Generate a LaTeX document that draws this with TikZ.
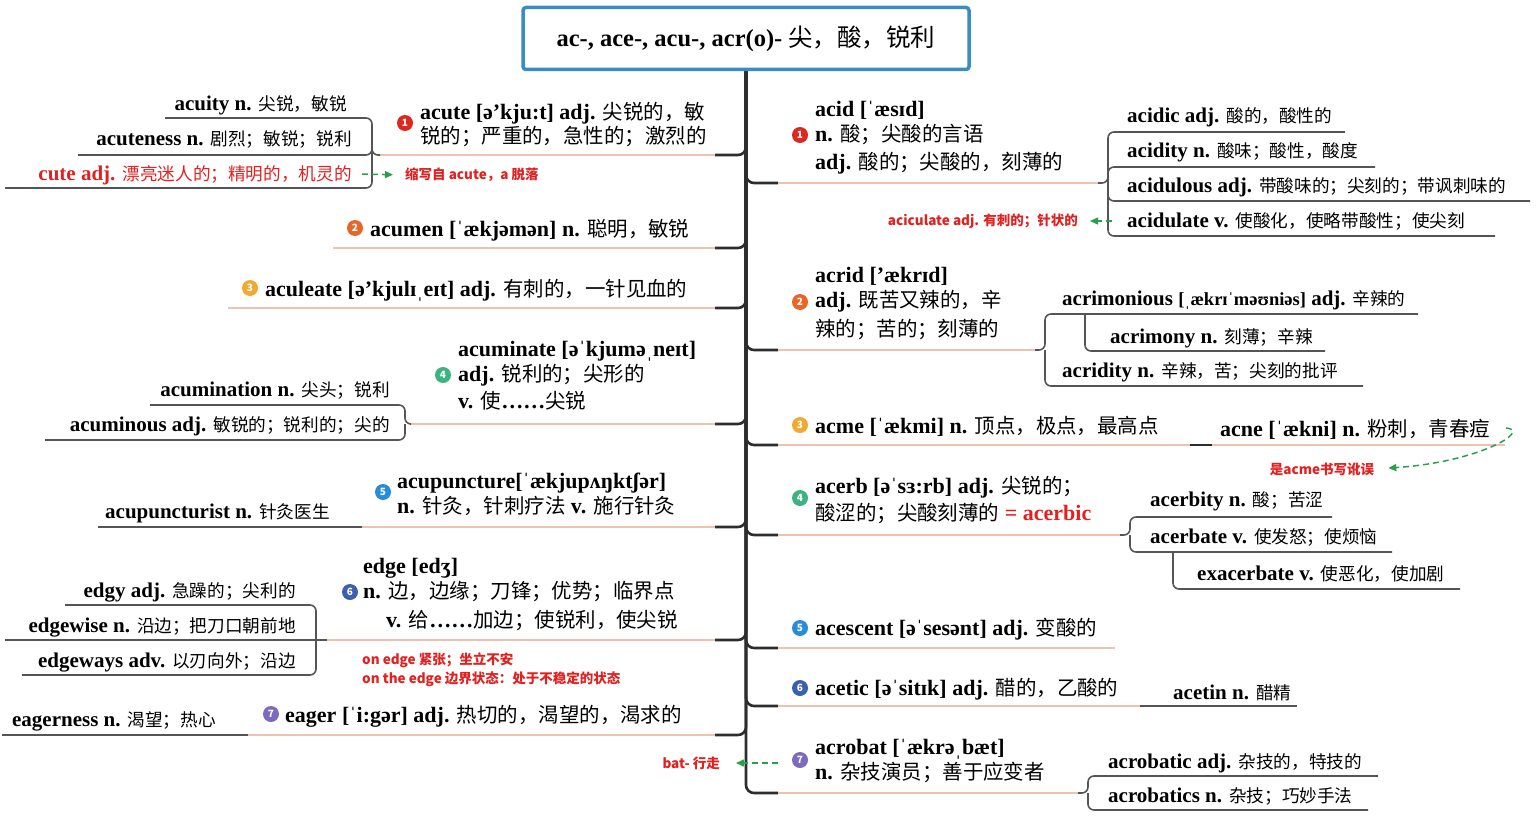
\documentclass[tikz,border=0pt]{standalone}
\usepackage{fontspec}
\usepackage{xcolor}
\usepackage{tikz}
\usetikzlibrary{positioning,backgrounds,arrows.meta}
\setmainfont{Liberation Serif}
\setsansfont{Noto Sans CJK SC}
\newfontfamily\cjkmw{Noto Sans CJK SC}[Scale=0.93]
\newfontfamily\cjksw{Noto Sans CJK SC}[Scale=0.84]
\newfontfamily\cjkrt{Noto Sans CJK SC}
\let\cjkcur\cjkmw
\let\latcur\rmfamily
\XeTeXinterchartokenstate=1
\newXeTeXintercharclass\cjkclass
\count255="4E00
\loop
  \XeTeXcharclass\count255=\cjkclass
  \ifnum\count255<"9FFF \advance\count255 by 1
\repeat
\XeTeXcharclass"FF0C=\cjkclass
\XeTeXcharclass"FF1B=\cjkclass
\XeTeXcharclass"FF1A=\cjkclass
\XeTeXcharclass"3001=\cjkclass
\XeTeXcharclass"2026=0
\XeTeXinterchartoks 0 \cjkclass={\cjkcur\mdseries}
\XeTeXinterchartoks 4095 \cjkclass={\cjkcur\mdseries}
\XeTeXinterchartoks \cjkclass 0={\latcur\bfseries}
\XeTeXinterchartoks \cjkclass 4095={\latcur\bfseries}
\newcommand\rtfont{\fontsize{24.5}{29}\selectfont\bfseries\let\cjkcur\cjkrt}
\newcommand\mwfont{\fontsize{22}{26}\selectfont\bfseries\let\cjkcur\cjkmw}
\newcommand\swfont{\fontsize{21}{25}\selectfont\bfseries\let\cjkcur\cjksw}
\newcommand\ntfont{\XeTeXinterchartokenstate=0 \sffamily\bfseries\fontsize{13.5}{19}\selectfont}
\newcommand\nbfont{\XeTeXinterchartokenstate=0 \sffamily\bfseries\fontsize{10}{10}\selectfont}
\newcommand\ipasm[1]{{\fontsize{18.5}{24}\selectfont #1}}
\definecolor{rootblue}{RGB}{58,140,198}
\definecolor{notered}{RGB}{226,32,32}
\definecolor{linkgreen}{RGB}{40,160,75}
\definecolor{trunkgrey}{RGB}{45,45,45}
\definecolor{subgrey}{RGB}{85,85,85}
\definecolor{salmon}{RGB}{236,194,176}
\definecolor{c1}{RGB}{222,40,30}
\definecolor{c2}{RGB}{232,102,40}
\definecolor{c3}{RGB}{240,170,50}
\definecolor{c4}{RGB}{60,180,130}
\definecolor{c5}{RGB}{40,140,220}
\definecolor{c6}{RGB}{60,95,175}
\definecolor{c7}{RGB}{125,105,190}
\pgfdeclarelayer{edgelayer}
\pgfdeclarelayer{nodelayer}
\pgfsetlayers{background,edgelayer,nodelayer,main}
\tikzstyle{none}=[inner sep=0mm]
\tikzstyle{root}=[draw=rootblue,line width=3.5pt,rounded corners=3pt,fill=white,minimum width=446pt,minimum height=62pt,font=\rtfont]
\tikzstyle{mw}=[inner sep=0pt,anchor=base west,align=left,font=\mwfont]
\tikzstyle{lw}=[inner sep=0pt,anchor=base east,font=\swfont]
\tikzstyle{rw}=[inner sep=0pt,anchor=base west,font=\swfont]
\tikzstyle{nt}=[inner sep=0pt,align=left,text=notered,font=\ntfont]
\tikzstyle{nb}=[circle,inner sep=0pt,minimum size=16pt,text=white,font=\nbfont]
\tikzstyle{trunk}=[draw=trunkgrey,line width=2.6pt,rounded corners=8pt]
\tikzstyle{ul}=[draw=salmon,line width=1.8pt]
\tikzstyle{sub}=[draw=subgrey,line width=1.6pt,rounded corners=6pt]
\tikzstyle{link}=[draw=linkgreen,line width=1.5pt,dash pattern=on 6pt off 4pt,-{Triangle[length=8pt,width=7pt]}]

\begin{document}
\begin{tikzpicture}[x=1pt,y=-1pt]
	\useasboundingbox (0,0) rectangle (1536,816);
	\begin{pgfonlayer}{nodelayer}
		\node [style=root] (0) at (746, 38.5) {ac-, ace-, acu-, acr(o)- 尖，酸，锐利};
		\node [style=nb, fill=c1] (1) at (405, 123) {1};
		\node [style=mw] (2) at (420, 143) {acute [ə'kju:t] adj. 尖锐的，敏\\[-2pt]锐的；严重的，急性的；激烈的};
		\node [style=nb, fill=c2] (3) at (355, 228) {2};
		\node [style=mw] (4) at (370, 236) {acumen [ˈækjəmən] n. 聪明，敏锐};
		\node [style=nb, fill=c3] (5) at (250, 288) {3};
		\node [style=mw] (6) at (265, 296) {aculeate [ə'kjulɪˌeɪt] adj. 有刺的，一针见血的};
		\node [style=nb, fill=c4] (7) at (443, 375) {4};
		\node [style=mw] (8) at (458, 408) {acuminate [əˈkjuməˌneɪt]\\[-1pt]adj. 锐利的；尖形的\\[1pt]v. 使……尖锐};
		\node [style=nb, fill=c5] (9) at (383, 492) {5};
		\node [style=mw] (10) at (397, 513) {acupuncture[ˈækjupʌŋktʃər]\\[-1pt]n. 针灸，针刺疗法 v. 施行针灸};
		\node [style=nb, fill=c6] (11) at (350, 592) {6};
		\node [style=mw] (12) at (363, 627) {edge [edʒ]\\[-1pt]n. 边，边缘；刀锋；优势；临界点\\[3pt]\hspace*{23pt}v. 给……加边；使锐利，使尖锐};
		\node [style=nb, fill=c7] (13) at (271, 714) {7};
		\node [style=mw] (14) at (285, 722) {eager [ˈi:gər] adj. 热切的，渴望的，渴求的};
		\node [style=nb, fill=c1] (15) at (800, 135) {1};
		\node [style=mw] (16) at (815, 169) {acid [ˈæsɪd]\\[-1pt]n. 酸；尖酸的言语\\[2pt]adj. 酸的；尖酸的，刻薄的};
		\node [style=nb, fill=c2] (17) at (800, 302) {2};
		\node [style=mw] (18) at (815, 336) {acrid ['ækrɪd]\\[-1pt]adj. 既苦又辣的，辛\\[3pt]辣的；苦的；刻薄的};
		\node [style=nb, fill=c3] (19) at (800, 425) {3};
		\node [style=mw] (20) at (815, 433) {acme [ˈækmi] n. 顶点，极点，最高点};
		\node [style=nb, fill=c4] (21) at (800, 498) {4};
		\node [style=mw] (22) at (815, 520) {acerb [əˈsɜ:rb] adj. 尖锐的；\\[1pt]酸涩的；尖酸刻薄的 \textcolor{notered}{= acerbic}};
		\node [style=nb, fill=c5] (23) at (800, 628) {5};
		\node [style=mw] (24) at (815, 635) {acescent [əˈsesənt] adj. 变酸的};
		\node [style=nb, fill=c6] (25) at (800, 688) {6};
		\node [style=mw] (26) at (815, 695) {acetic [əˈsitɪk] adj. 醋的，乙酸的};
		\node [style=nb, fill=c7] (27) at (800, 760) {7};
		\node [style=mw] (28) at (815, 779) {acrobat [ˈækrəˌbæt]\\[-1pt]n. 杂技演员；善于应变者};
		\node [style=lw] (29) at (347, 110) {acuity n. 尖锐，敏锐};
		\node [style=lw] (30) at (352, 145) {acuteness n. 剧烈；敏锐；锐利};
		\node [style=lw, text=notered] (31) at (352, 180) {cute adj. 漂亮迷人的；精明的，机灵的};
		\node [style=lw] (32) at (390, 396) {acumination n. 尖头；锐利};
		\node [style=lw] (33) at (390, 431) {acuminous adj. 敏锐的；锐利的；尖的};
		\node [style=lw] (34) at (330, 518) {acupuncturist n. 针灸医生};
		\node [style=lw] (35) at (296, 597) {edgy adj. 急躁的；尖利的};
		\node [style=lw] (36) at (296, 632) {edgewise n. 沿边；把刀口朝前地};
		\node [style=lw] (37) at (296, 667) {edgeways adv. 以刃向外；沿边};
		\node [style=lw] (38) at (216, 726) {eagerness n. 渴望；热心};
		\node [style=rw] (39) at (1127, 122) {acidic adj. 酸的，酸性的};
		\node [style=rw] (40) at (1127, 157) {acidity n. 酸味；酸性，酸度};
		\node [style=rw] (41) at (1127, 192) {acidulous adj. 带酸味的；尖刻的；带讽刺味的};
		\node [style=rw] (42) at (1127, 227) {acidulate v. 使酸化，使略带酸性；使尖刻};
		\node [style=rw] (43) at (1062, 305) {acrimonious \ipasm{[ˌækrɪˈməʊniəs]} adj. 辛辣的};
		\node [style=rw] (44) at (1110, 343) {acrimony n. 刻薄；辛辣};
		\node [style=rw] (45) at (1062, 377) {acridity n. 辛辣，苦；尖刻的批评};
		\node [style=mw] (46) at (1220, 436) {acne [ˈækni] n. 粉刺，青春痘};
		\node [style=rw] (47) at (1150, 506) {acerbity n. 酸；苦涩};
		\node [style=rw] (48) at (1150, 543) {acerbate v. 使发怒；使烦恼};
		\node [style=rw] (49) at (1197, 580) {exacerbate v. 使恶化，使加剧};
		\node [style=rw] (50) at (1173, 699) {acetin n. 醋精};
		\node [style=rw] (51) at (1108, 768) {acrobatic adj. 杂技的，特技的};
		\node [style=rw] (52) at (1108, 802) {acrobatics n. 杂技；巧妙手法};
		\node [style=nt, anchor=west] (53) at (405, 175) {缩写自 acute，a 脱落};
		\node [style=nt, anchor=west] (54) at (362, 669.5) {on edge 紧张；坐立不安\\on the edge 边界状态：处于不稳定的状态};
		\node [style=nt, anchor=east] (55) at (1078, 221) {aciculate adj. 有刺的；针状的};
		\node [style=nt] (56) at (1322, 469) {是acme书写讹误};
		\node [style=nt, anchor=east] (57) at (720, 763) {bat- 行走};
		\node [style=none] (60) at (715, 155) {};
		\node [style=none] (61) at (715, 248) {};
		\node [style=none] (62) at (715, 308) {};
		\node [style=none] (63) at (715, 424) {};
		\node [style=none] (64) at (715, 527) {};
		\node [style=none] (65) at (715, 640) {};
		\node [style=none] (66) at (715, 735) {};
		\node [style=none] (70) at (380, 155) {};
		\node [style=none] (71) at (333, 248) {};
		\node [style=none] (72) at (228, 308) {};
		\node [style=none] (73) at (410, 424) {};
		\node [style=none] (74) at (362, 527) {};
		\node [style=none] (75) at (327, 640) {};
		\node [style=none] (76) at (248, 735) {};
		\node [style=none] (80) at (778, 183) {};
		\node [style=none] (81) at (778, 350) {};
		\node [style=none] (82) at (778, 445) {};
		\node [style=none] (83) at (778, 535) {};
		\node [style=none] (84) at (778, 648) {};
		\node [style=none] (85) at (778, 706) {};
		\node [style=none] (86) at (778, 793) {};
		\node [style=none] (90) at (1098, 183) {};
		\node [style=none] (91) at (1035, 350) {};
		\node [style=none] (92) at (1190, 445) {};
		\node [style=none] (93) at (1120, 535) {};
		\node [style=none] (94) at (1115, 648) {};
		\node [style=none] (95) at (1140, 706) {};
		\node [style=none] (96) at (1078, 793) {};
		\node [style=none] (100) at (372, 155) {};
		\node [style=none] (101) at (405, 424) {};
		\node [style=none] (102) at (316, 640) {};
		\node [style=none] (103) at (1108, 183) {};
		\node [style=none] (104) at (1045, 350) {};
		\node [style=none] (105) at (1085, 314) {};
		\node [style=none] (106) at (1130, 535) {};
		\node [style=none] (107) at (1173, 552) {};
		\node [style=none] (108) at (1088, 793) {};
		\node [style=none] (109) at (1212, 445) {};
		\node [style=none] (110) at (165, 118) {};
		\node [style=none] (111) at (78, 155) {};
		\node [style=none] (112) at (5, 188) {};
		\node [style=none] (113) at (150, 405) {};
		\node [style=none] (114) at (45, 440) {};
		\node [style=none] (115) at (98, 527) {};
		\node [style=none] (116) at (65, 605) {};
		\node [style=none] (117) at (5, 640) {};
		\node [style=none] (118) at (22, 675) {};
		\node [style=none] (119) at (2, 735) {};
		\node [style=none] (120) at (1345, 132) {};
		\node [style=none] (121) at (1375, 167) {};
		\node [style=none] (122) at (1530, 201) {};
		\node [style=none] (123) at (1495, 236) {};
		\node [style=none] (124) at (1418, 314) {};
		\node [style=none] (125) at (1325, 351) {};
		\node [style=none] (126) at (1363, 386) {};
		\node [style=none] (127) at (1505, 445) {};
		\node [style=none] (128) at (1332, 517) {};
		\node [style=none] (129) at (1392, 552) {};
		\node [style=none] (130) at (1460, 589) {};
		\node [style=none] (131) at (1297, 706) {};
		\node [style=none] (132) at (1378, 776) {};
		\node [style=none] (133) at (1368, 810) {};
		\node [style=none] (140) at (362, 174) {};
		\node [style=none] (142) at (1112, 221) {};
		\node [style=none] (144) at (1506, 428) {};
		\node [style=none] (146) at (778, 763) {};
	\end{pgfonlayer}
	\begin{pgfonlayer}{edgelayer}
		\draw [style=trunk] (0.south) |- (60.center);
		\draw [style=trunk] (0.south) |- (61.center);
		\draw [style=trunk] (0.south) |- (62.center);
		\draw [style=trunk] (0.south) |- (63.center);
		\draw [style=trunk] (0.south) |- (64.center);
		\draw [style=trunk] (0.south) |- (65.center);
		\draw [style=trunk] (0.south) |- (66.center);
		\draw [style=trunk] (0.south) |- (80.center);
		\draw [style=trunk] (0.south) |- (81.center);
		\draw [style=trunk] (0.south) |- (82.center);
		\draw [style=trunk] (0.south) |- (83.center);
		\draw [style=trunk] (0.south) |- (84.center);
		\draw [style=trunk] (0.south) |- (85.center);
		\draw [style=trunk] (0.south) |- (86.center);
		\draw [style=ul] (60.center) to (70.center);
		\draw [style=ul] (61.center) to (71.center);
		\draw [style=ul] (62.center) to (72.center);
		\draw [style=ul] (63.center) to (73.center);
		\draw [style=ul] (64.center) to (74.center);
		\draw [style=ul] (65.center) to (75.center);
		\draw [style=ul] (66.center) to (76.center);
		\draw [style=ul] (80.center) to (90.center);
		\draw [style=ul] (81.center) to (91.center);
		\draw [style=ul] (82.center) to (92.center);
		\draw [style=ul] (83.center) to (93.center);
		\draw [style=ul] (84.center) to (94.center);
		\draw [style=ul] (85.center) to (95.center);
		\draw [style=ul] (86.center) to (96.center);
		\draw [style=sub] (70.center) -- (100.center) |- (110.center);
		\draw [style=sub] (100.center) |- (111.center);
		\draw [style=sub] (100.center) |- (112.center);
		\draw [style=sub] (73.center) -- (101.center) |- (113.center);
		\draw [style=sub] (101.center) |- (114.center);
		\draw [style=sub] (74.center) to (115.center);
		\draw [style=sub] (75.center) to (117.center);
		\draw [style=sub] (102.center) |- (116.center);
		\draw [style=sub] (102.center) |- (118.center);
		\draw [style=sub] (76.center) to (119.center);
		\draw [style=sub] (90.center) -- (103.center) |- (120.center);
		\draw [style=sub] (103.center) |- (121.center);
		\draw [style=sub] (103.center) |- (122.center);
		\draw [style=sub] (103.center) |- (123.center);
		\draw [style=sub] (91.center) -- (104.center) |- (124.center);
		\draw [style=sub] (104.center) |- (126.center);
		\draw [style=sub] (105.center) |- (125.center);
		\draw [style=trunk] (92.center) to (109.center);
		\draw [style=ul] (109.center) to (127.center);
		\draw [style=sub] (93.center) -- (106.center) |- (128.center);
		\draw [style=sub] (106.center) |- (129.center);
		\draw [style=sub] (107.center) |- (130.center);
		\draw [style=sub] (95.center) to (131.center);
		\draw [style=sub] (96.center) -- (108.center) |- (132.center);
		\draw [style=sub] (108.center) |- (133.center);
		\draw [style=link, shorten >=12pt] (140.center) to (53.west);
		\draw [style=link, shorten >=12pt] (142.center) to (55.east);
		\draw [style=link, shorten >=14pt] (144.center) .. controls (1532, 430) and (1480, 462) .. (56.east);
		\draw [style=link, shorten >=16pt] (146.center) to (57.east);
	\end{pgfonlayer}
\end{tikzpicture}
\end{document}
